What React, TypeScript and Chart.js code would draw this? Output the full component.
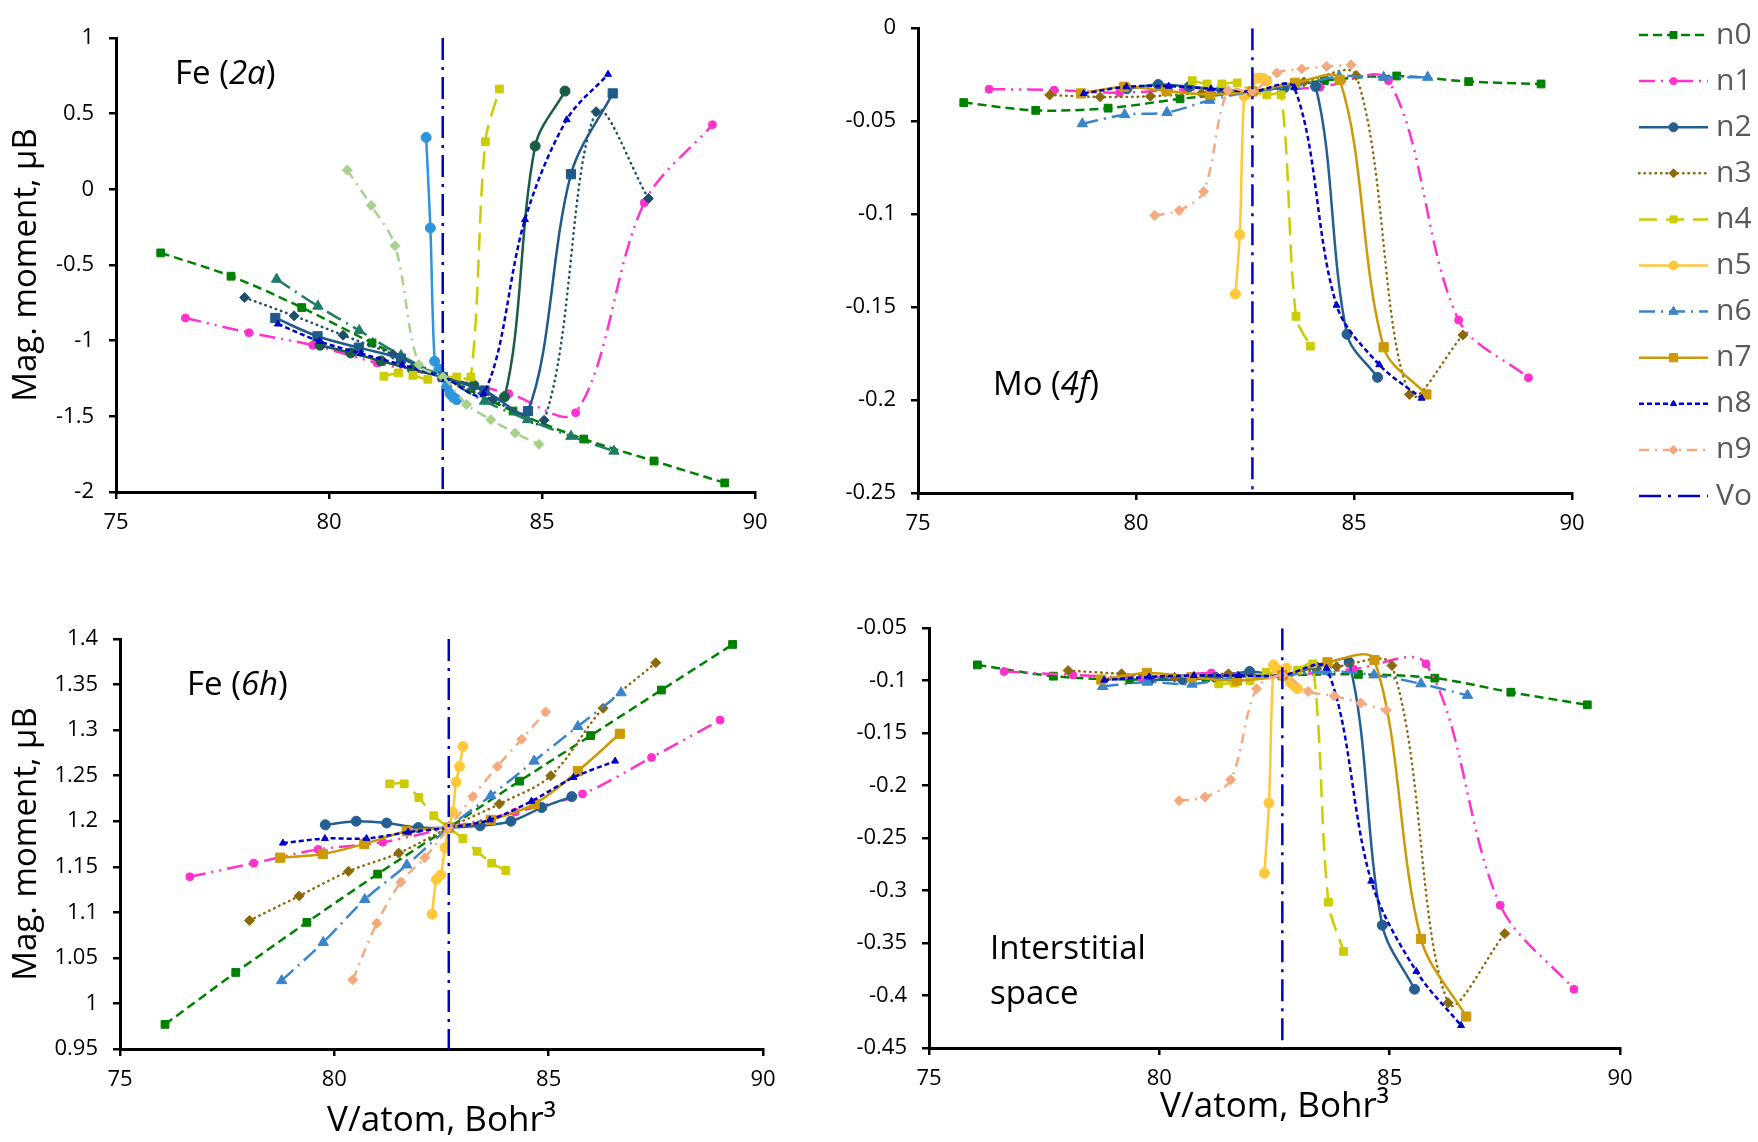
import React, { useEffect, useRef } from 'react';
import { Chart, registerables } from 'chart.js';
import { drawPoint } from 'chart.js/helpers';

Chart.register(...registerables);
Chart.defaults.font.family = '"Open Sans", "Noto Sans", sans-serif';

// ---------------- DATA ----------------
const SERIES_NAMES = ['n0', 'n1', 'n2', 'n3', 'n4', 'n5', 'n6', 'n7', 'n8', 'n9'];
const VO = 82.67;
const X_TICKS = [75, 80, 85, 90];

// volumes (V/atom, Bohr^3) for each series
const X_N0 = [76.05, 77.70, 79.36, 81.01, 82.67, 84.32, 85.98, 87.63, 89.29];
const X_N1 = [76.63, 78.12, 79.62, 81.13, 82.67, 84.22, 85.79, 87.40, 89.00];
const X_N2 = [79.79, 80.51, 81.22, 81.96, 82.67, 83.40, 84.12, 84.84, 85.54];
const X_N3 = [78.02, 79.18, 80.33, 81.50, 82.67, 83.85, 85.05, 86.27, 87.50];
const X_N4 = [81.29, 81.63, 81.97, 82.32, 82.67, 83.00, 83.33, 83.67, 84.00];
const X_N5 = [82.28, 82.38, 82.48, 82.58, 82.67, 82.76, 82.84, 82.92, 83.00];
const X_N6 = [78.77, 79.74, 80.71, 81.69, 82.67, 83.65, 84.66, 85.68, 86.69];
const X_N7 = [78.74, 79.73, 80.70, 81.69, 82.67, 83.65, 84.67, 85.68, 86.66];
const X_N8 = [78.80, 79.78, 80.75, 81.72, 82.67, 83.63, 84.60, 85.58, 86.55];
const X_N9 = [80.43, 80.99, 81.55, 82.11, 82.67, 83.23, 83.80, 84.37, 84.93];

// Fe (2a)
const FE2A_N0 = [-0.42, -0.574, -0.781, -1.015, -1.24, -1.465, -1.65, -1.795, -1.94];
const FE2A_N1 = [-0.85, -0.947, -1.03, -1.147, -1.24, -1.35, -1.476, -0.089, 0.427];
const FE2A_N2 = [-1.03, -1.081, -1.134, -1.19, -1.24, -1.295, -1.372, 0.286, 0.649];
const FE2A_N3 = [-0.715, -0.836, -0.964, -1.09, -1.24, -1.39, -1.526, 0.513, -0.06];
const FE2A_N4 = [-1.235, -1.213, -1.229, -1.255, -1.24, -1.24, -1.24, 0.314, 0.663];
const FE2A_N5 = [0.343, -0.255, -1.136, -1.189, -1.24, -1.306, -1.35, -1.375, -1.39];
const FE2A_N6 = [-0.594, -0.772, -0.933, -1.099, -1.24, -1.40, -1.522, -1.632, -1.73];
const FE2A_N7 = [-0.85, -0.971, -1.046, -1.119, -1.24, -1.33, -1.465, 0.10, 0.634];
const FE2A_N8 = [-0.89, -1.005, -1.085, -1.16, -1.24, -1.35, -0.2, 0.46, 0.76];
const FE2A_N9 = [0.127, -0.107, -0.373, -1.158, -1.24, -1.421, -1.522, -1.61, -1.685];

// Mo (4f)
const MO_N0 = [-0.040, -0.0442, -0.043, -0.038, -0.034, -0.0282, -0.0257, -0.0287, -0.030];
const MO_N1 = [-0.0328, -0.0333, -0.0347, -0.033, -0.034, -0.0317, -0.0282, -0.157, -0.188];
const MO_N2 = [-0.0326, -0.0303, -0.0315, -0.033, -0.034, -0.032, -0.0314, -0.1646, -0.1878];
const MO_N3 = [-0.0359, -0.037, -0.0366, -0.035, -0.034, -0.0289, -0.0254, -0.197, -0.165];
const MO_N4 = [-0.0282, -0.030, -0.030, -0.0294, -0.034, -0.0359, -0.0359, -0.155, -0.171];
const MO_N5 = [-0.143, -0.111, -0.0365, -0.035, -0.034, -0.0271, -0.0268, -0.027, -0.0285];
const MO_N6 = [-0.0514, -0.0465, -0.0453, -0.0388, -0.034, -0.031, -0.026, -0.0264, -0.0264];
const MO_N7 = [-0.0351, -0.0315, -0.0338, -0.0356, -0.034, -0.0294, -0.0277, -0.1716, -0.197];
const MO_N8 = [-0.0352, -0.0315, -0.0312, -0.0326, -0.034, -0.032, -0.149, -0.181, -0.199];
const MO_N9 = [-0.1007, -0.098, -0.0879, -0.0335, -0.034, -0.0241, -0.0219, -0.0206, -0.0197];

// Fe (6h)
const FE6H_N0 = [0.977, 1.034, 1.089, 1.142, 1.193, 1.244, 1.294, 1.344, 1.394];
const FE6H_N1 = [1.139, 1.154, 1.169, 1.177, 1.193, 1.21, 1.23, 1.27, 1.311];
const FE6H_N2 = [1.196, 1.2, 1.198, 1.193, 1.193, 1.195, 1.2, 1.215, 1.227];
const FE6H_N3 = [1.091, 1.118, 1.145, 1.165, 1.193, 1.219, 1.25, 1.324, 1.374];
const FE6H_N4 = [1.241, 1.241, 1.226, 1.206, 1.193, 1.181, 1.167, 1.154, 1.146];
const FE6H_N5 = [1.098, 1.136, 1.141, 1.171, 1.193, 1.21, 1.243, 1.26, 1.282];
const FE6H_N6 = [1.025, 1.067, 1.114, 1.152, 1.193, 1.228, 1.266, 1.304, 1.341];
const FE6H_N7 = [1.16, 1.164, 1.175, 1.189, 1.193, 1.2015, 1.219, 1.255, 1.296];
const FE6H_N8 = [1.176, 1.181, 1.181, 1.188, 1.193, 1.2015, 1.222, 1.248, 1.266];
const FE6H_N9 = [1.026, 1.088, 1.133, 1.16, 1.193, 1.227, 1.26, 1.29, 1.32];

// Interstitial space
const INT_N0 = [-0.085, -0.0957, -0.0989, -0.097, -0.095, -0.094, -0.0976, -0.111, -0.123];
const INT_N1 = [-0.0913, -0.0945, -0.097, -0.0926, -0.095, -0.089, -0.084, -0.314, -0.394];
const INT_N2 = [-0.099, -0.099, -0.097, -0.0913, -0.095, -0.087, -0.0825, -0.333, -0.394];
const INT_N3 = [-0.0904, -0.0935, -0.0967, -0.0935, -0.095, -0.0866, -0.0856, -0.407, -0.341];
const INT_N4 = [-0.103, -0.1023, -0.0998, -0.092, -0.095, -0.09, -0.084, -0.311, -0.358];
const INT_N5 = [-0.2834, -0.2166, -0.085, -0.09, -0.095, -0.088, -0.1014, -0.1046, -0.1077];
const INT_N6 = [-0.1055, -0.1014, -0.1033, -0.0967, -0.095, -0.0913, -0.0945, -0.103, -0.114];
const INT_N7 = [-0.0989, -0.0926, -0.0967, -0.0998, -0.095, -0.0825, -0.0803, -0.346, -0.42];
const INT_N8 = [-0.0995, -0.0964, -0.0951, -0.0951, -0.095, -0.088, -0.291, -0.377, -0.4286];
const INT_N9 = [-0.2143, -0.2109, -0.1944, -0.1077, -0.095, -0.1102, -0.1147, -0.1213, -0.1282];

const X_ALL = [X_N0, X_N1, X_N2, X_N3, X_N4, X_N5, X_N6, X_N7, X_N8, X_N9];
const FE2A = [FE2A_N0, FE2A_N1, FE2A_N2, FE2A_N3, FE2A_N4, FE2A_N5, FE2A_N6, FE2A_N7, FE2A_N8, FE2A_N9];
const MO = [MO_N0, MO_N1, MO_N2, MO_N3, MO_N4, MO_N5, MO_N6, MO_N7, MO_N8, MO_N9];
const FE6H = [FE6H_N0, FE6H_N1, FE6H_N2, FE6H_N3, FE6H_N4, FE6H_N5, FE6H_N6, FE6H_N7, FE6H_N8, FE6H_N9];
const INTER = [INT_N0, INT_N1, INT_N2, INT_N3, INT_N4, INT_N5, INT_N6, INT_N7, INT_N8, INT_N9];

// ---------------- STYLES ----------------
const MAIN_COLORS = ['#008000', '#ff33cc', '#255e91', '#8c6a0c', '#cccc00', '#ffc83a', '#3a84c9', '#cc9a06', '#0000cc', '#f4a97e'];
const FE2A_COLORS = ['#008000', '#ff33cc', '#1a5c48', '#1f4e6b', '#cccc00', '#2e95dc', '#1e7b64', '#1f5a8a', '#0000cc', '#a9d18e'];
const DASHES = [[9, 5], [16, 6, 2, 6, 2, 6], [], [0.5, 5], [18, 9], [], [16, 6, 2, 6], [], [5, 3], [10, 6, 2, 6]];
const CAPS = ['butt', 'butt', 'butt', 'round', 'butt', 'butt', 'butt', 'butt', 'butt', 'butt'];
const POINT_STYLES = ['rect', 'circle', 'circle', 'rectRot', 'rect', 'circle', 'triangle', 'rect', 'triangle', 'rectRot'];
const POINT_RADII = [5.5, 4, 5, 5, 5.5, 5, 6, 6.5, 4, 5];
const VO_COLOR = '#0000cc';
const FONT = '"Open Sans", "Noto Sans", sans-serif';

const fmt = (v: any) => String(parseFloat(Number(v).toFixed(3)));

function makeDatasets(ys: number[][], colors: string[], yMin: number, yMax: number) {
  const ds: any[] = SERIES_NAMES.map((name, i) => ({
    label: name,
    data: X_ALL[i].map((x, j) => ({ x, y: ys[i][j] })),
    borderColor: colors[i],
    backgroundColor: colors[i],
    pointBackgroundColor: colors[i],
    pointBorderColor: colors[i],
    borderWidth: 2.5,
    borderDash: DASHES[i],
    borderCapStyle: CAPS[i],
    pointStyle: POINT_STYLES[i],
    pointRadius: POINT_RADII[i],
    pointBorderWidth: 1,
    tension: 0.33,
    fill: false,
    order: 20 - i,
  }));
  ds.push({
    label: 'Vo',
    data: [{ x: VO, y: yMax }, { x: VO, y: yMin }],
    borderColor: VO_COLOR,
    backgroundColor: VO_COLOR,
    borderWidth: 2.5,
    borderDash: [22, 7, 3, 7],
    pointRadius: 0,
    tension: 0,
    fill: false,
    order: 0,
  });
  return ds;
}

const LEGEND_X0 = 809;
const LEGEND_X1 = 878;
const LEGEND_TX = 886;
const LEGEND_Y0 = 35;
const LEGEND_DY = 46.1;

const legendPlugin = {
  id: 'excelLegend',
  afterDraw(chart: any) {
    const ctx = chart.ctx;
    chart.data.datasets.forEach((d: any, i: number) => {
      const y = LEGEND_Y0 + i * LEGEND_DY;
      ctx.save();
      ctx.strokeStyle = d.borderColor;
      ctx.lineWidth = d.borderWidth;
      ctx.setLineDash(d.borderDash || []);
      ctx.lineCap = d.borderCapStyle || 'butt';
      ctx.beginPath();
      ctx.moveTo(LEGEND_X0, y);
      ctx.lineTo(LEGEND_X1, y);
      ctx.stroke();
      ctx.setLineDash([]);
      ctx.lineCap = 'butt';
      if (d.pointRadius > 0) {
        ctx.fillStyle = d.pointBackgroundColor;
        ctx.strokeStyle = d.pointBorderColor;
        ctx.lineWidth = 1;
        drawPoint(ctx, { pointStyle: d.pointStyle, radius: d.pointRadius * 0.9, rotation: 0, borderWidth: 1 } as any, (LEGEND_X0 + LEGEND_X1) / 2, y);
      }
      ctx.fillStyle = '#595959';
      ctx.font = '30px ' + FONT;
      ctx.textBaseline = 'middle';
      ctx.textAlign = 'left';
      ctx.fillText(d.label, LEGEND_TX, y);
      ctx.restore();
    });
  },
};

type Panel = {
  left: number; top: number; width: number; height: number;
  yW: number; xH: number; padTop: number; padRight: number;
  yMin: number; yMax: number; yStep: number;
  ys: number[][]; colors: string[];
  yTitle: boolean; xTitle: boolean; xTitlePad: number; legend: boolean;
};

const PANELS: Panel[] = [
  { left: 0, top: 0, width: 790, height: 560, yW: 116, xH: 68, padTop: 38, padRight: 35, yMin: -2, yMax: 1, yStep: 0.5, ys: FE2A, colors: FE2A_COLORS, yTitle: true, xTitle: false, xTitlePad: 0, legend: false },
  { left: 830, top: 0, width: 928, height: 560, yW: 88, xH: 67, padTop: 19, padRight: 186, yMin: -0.25, yMax: 0, yStep: 0.05, ys: MO, colors: MAIN_COLORS, yTitle: false, xTitle: false, xTitlePad: 0, legend: true },
  { left: 0, top: 600, width: 790, height: 542, yW: 120, xH: 93, padTop: 39, padRight: 27, yMin: 0.95, yMax: 1.4, yStep: 0.05, ys: FE6H, colors: MAIN_COLORS, yTitle: true, xTitle: true, xTitlePad: 0, legend: false },
  { left: 830, top: 600, width: 928, height: 542, yW: 99, xH: 94, padTop: 26, padRight: 138, yMin: -0.45, yMax: -0.05, yStep: 0.05, ys: INTER, colors: MAIN_COLORS, yTitle: false, xTitle: true, xTitlePad: 14, legend: false },
];

function ChartPanel({ p }: { p: Panel }) {
  const ref = useRef<HTMLCanvasElement>(null);
  useEffect(() => {
    const chart = new Chart(ref.current as HTMLCanvasElement, {
      type: 'line',
      data: { datasets: makeDatasets(p.ys, p.colors, p.yMin, p.yMax) },
      options: {
        animation: false,
        responsive: false,
        devicePixelRatio: 1,
        layout: { padding: { left: 0, top: p.padTop, right: p.padRight, bottom: 0 } },
        plugins: { legend: { display: false }, tooltip: { enabled: false } },
        scales: {
          x: {
            type: 'linear',
            min: X_TICKS[0],
            max: X_TICKS[X_TICKS.length - 1],
            afterBuildTicks: (s: any) => { s.ticks = X_TICKS.map((v) => ({ value: v })); },
            ticks: { color: '#000', font: { size: 22, family: FONT }, padding: 11, maxRotation: 0, autoSkip: false, callback: fmt },
            grid: { display: true, drawOnChartArea: false, drawTicks: true, tickLength: 7, color: '#000', lineWidth: 2.5 },
            border: { display: true, color: '#000', width: 3 },
            title: { display: p.xTitle, text: 'V/atom, Bohr³', color: '#000', font: { size: 35, family: FONT }, padding: { top: 0, bottom: p.xTitlePad } },
            afterFit: (s: any) => { s.height = p.xH; },
          } as any,
          y: {
            type: 'linear',
            min: p.yMin,
            max: p.yMax,
            ticks: { stepSize: p.yStep, color: '#000', font: { size: 22, family: FONT }, padding: 15, autoSkip: false, callback: fmt },
            grid: { display: true, drawOnChartArea: false, drawTicks: true, tickLength: 7, color: '#000', lineWidth: 2.5 },
            border: { display: true, color: '#000', width: 3 },
            title: { display: p.yTitle, text: 'Mag. moment, μB', color: '#000', font: { size: 33, family: FONT }, padding: { top: 7, bottom: 0 } },
            afterFit: (s: any) => { s.width = p.yW; },
          } as any,
        },
      },
      plugins: p.legend ? [legendPlugin as any] : [],
    });
    return () => chart.destroy();
  }, []);
  return (
    <div style={{ position: 'absolute', left: p.left, top: p.top, width: p.width, height: p.height }}>
      <canvas ref={ref} width={p.width} height={p.height} style={{ display: 'block', width: p.width, height: p.height }} />
    </div>
  );
}

const labelStyle = (left: number, centerY: number): React.CSSProperties => ({
  position: 'absolute', left, top: centerY - 17, fontFamily: FONT, fontSize: 33, lineHeight: '34px', color: '#000', whiteSpace: 'nowrap',
});

export default function App() {
  return (
    <div style={{ position: 'absolute', left: 0, top: 0, width: 1758, height: 1142, background: '#fff', overflow: 'hidden' }}>
      {PANELS.map((p, i) => <ChartPanel key={i} p={p} />)}
      <div style={labelStyle(175, 72)}>Fe (<i>2a</i>)</div>
      <div style={labelStyle(993, 383)}>Mo (<i>4f</i>)</div>
      <div style={labelStyle(187, 683)}>Fe (<i>6h</i>)</div>
      <div style={labelStyle(990, 947)}>Interstitial</div>
      <div style={labelStyle(990, 992)}>space</div>
    </div>
  );
}
